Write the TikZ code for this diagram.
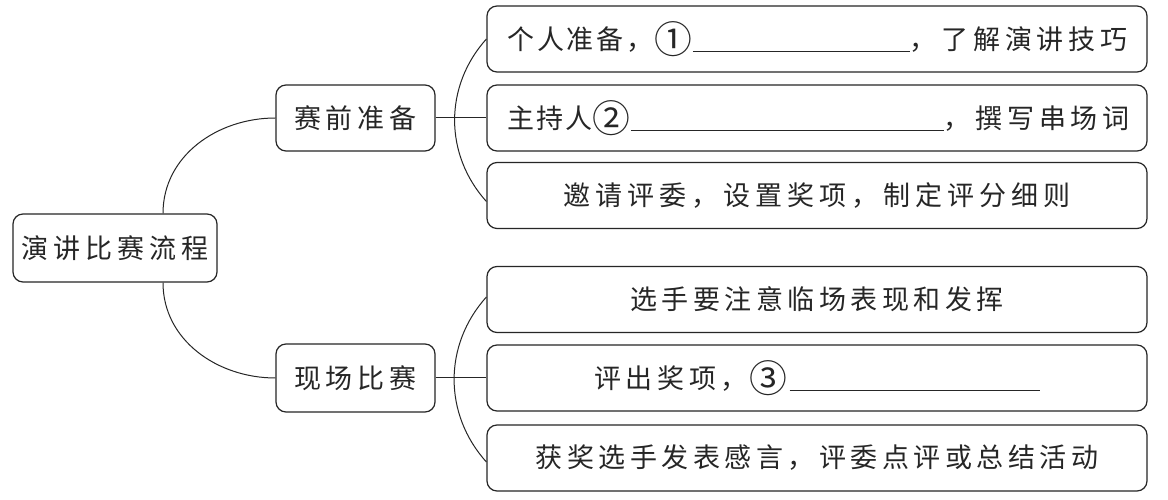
\documentclass[tikz,border=0pt]{standalone}
\usepackage{fontspec}
\usepackage{graphicx}
\newfontfamily\cjk{Noto Sans CJK SC}
\newcommand\myspc[2]{\def\myspcamt{#1}\myspcfirst#2\relax}
\def\myspcfirst#1{#1\myspcaux}
\def\myspcaux#1{\ifx\relax#1\else\hspace{\myspcamt}#1\expandafter\myspcaux\fi}
\newcommand\circnum[1]{\raisebox{-4pt}{\scalebox{1.4}{#1}}}
\begin{document}
\begin{tikzpicture}[x=1pt,y=1pt,
  box/.style={draw=black!85, line width=1.2pt, rounded corners=10pt,
    minimum height=66pt, inner sep=0pt,
    font=\cjk\fontsize{27}{30}\selectfont, text=black!85},
  wide/.style={box, minimum width=660pt},
  leftbox/.style={wide, text width=620pt, inner xsep=20pt, align=left},
  conn/.style={draw=black!85, line width=1pt}]
\useasboundingbox (0,0) rectangle (1168,500);
\fill[white] (0,0) rectangle (1168,500);
% nodes
\node[box, minimum width=204pt, minimum height=68pt] (root) at (115,252) {\myspc{5pt}{演讲比赛流程}};
\node[box, minimum width=159pt] (prep) at (355.5,382) {\myspc{5pt}{赛前准备}};
\node[box, minimum width=159pt, minimum height=68pt] (live) at (355.5,122) {\myspc{5pt}{现场比赛}};
\node[leftbox] (r1) at (817,461) {\mbox{\myspc{3pt}{个人准备，}\circnum{①}\hspace{1pt}\rule[-3pt]{217pt}{1pt}\myspc{4.8pt}{，了解演讲技巧}}};
\node[leftbox] (r2) at (817,382) {\mbox{\myspc{2pt}{主持人}\circnum{②}\hspace{1pt}\rule[-3pt]{313pt}{1pt}\myspc{4.8pt}{，撰写串场词}}};
\node[wide] (r3) at (817,304.5) {\myspc{5pt}{邀请评委，设置奖项，制定评分细则}};
\node[wide] (r4) at (817,200.5) {\myspc{4.5pt}{选手要注意临场表现和发挥}};
\node[wide] (r5) at (817,122) {\mbox{\myspc{4.6pt}{评出奖项，}\hspace{2pt}\circnum{③}\hspace{2pt}\rule[-3pt]{250pt}{1pt}}};
\node[wide] (r6) at (817,42) {\myspc{4.5pt}{获奖选手发表感言，评委点评或总结活动}};
% connectors
\draw[conn] ([xshift=48pt]root.north) to[out=90,in=180] (prep.west);
\draw[conn] ([xshift=48pt]root.south) to[out=-90,in=180] (live.west);
\draw[conn] (prep.east) -- (r2.west);
\draw[conn] (live.east) -- (r5.west);
\draw[conn] (r1.west) to[out=228,in=132] ([yshift=-6pt]r3.west);
\draw[conn] ([yshift=2.5pt]r4.west) to[out=228,in=132] ([yshift=-4pt]r6.west);
\end{tikzpicture}
\end{document}
